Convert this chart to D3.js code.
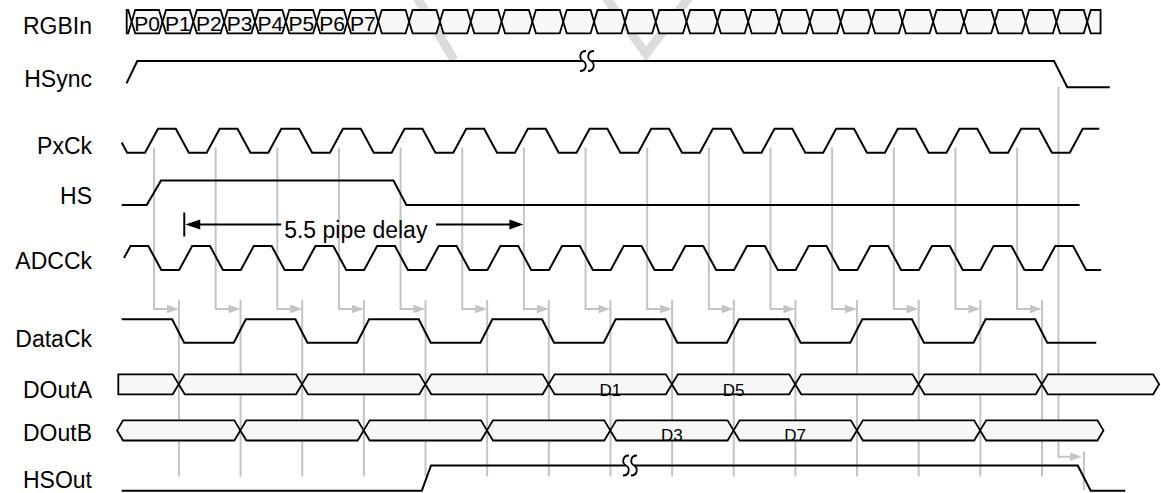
<!DOCTYPE html>
<html><head><meta charset="utf-8">
<script src="https://cdn.jsdelivr.net/npm/d3@7/dist/d3.min.js"></script>
<style>html,body{margin:0;padding:0;background:#fff;}svg{display:block;}</style>
</head><body>
<svg id="chart" width="1161" height="493"></svg>
<script>
// ---------------- data (time measured in pixel-clock periods) ----------------
const signalNames = ["RGBIn","HSync","PxCk","HS","ADCCk","DataCk","DOutA","DOutB","HSOut"];

const rgbLabels = ["P0","P1","P2","P3","P4","P5","P6","P7"];
const rgbCrossings = [-0.216,0.284,0.784,1.284,1.784,2.284,2.784,3.284,3.784,4.284,4.784,5.284,5.784,6.284,6.784,7.284,
                      7.784,8.284,8.784,9.284,9.784,10.284,10.784,11.284,11.784,12.284,12.784,13.284,13.784,14.284,14.784,15.284];
const rgbSpan = [-0.297, 15.5];

const hsyncPoints = [[-0.3,0.15],[-0.125,1],[14.745,1],[14.96,0],[15.65,0]];
const hsyncBreak = [7.105, 7.234];

const pxckToggles = [-0.5,0,0.5,1,1.5,2,2.5,3,3.5,4,4.5,5,5.5,6,6.5,7,7.5,8,8.5,9,9.5,10,10.5,11,11.5,12,12.5,13,13.5,14,14.5,15];
const pxckInit = 1, pxckSpan = [-0.378, 15.48];

const hsPoints = [[-0.378,0],[0.028,0],[0.26,1],[4.03,1],[4.24,0],[15.16,0]];

const adcckToggles = [-0.446,0.054,0.554,1.054,1.554,2.054,2.554,3.054,3.554,4.054,4.554,5.054,5.554,6.054,6.554,7.054,
                      7.554,8.054,8.554,9.054,9.554,10.054,10.554,11.054,11.554,12.054,12.554,13.054,13.554,14.054,14.554,15.054];
const adcckInit = 0, adcckSpan = [-0.341, 15.51];

const datackToggles = [0.44,1.44,2.44,3.44,4.44,5.44,6.44,7.44,8.44,9.44,10.44,11.44,12.44,13.44,14.44];
const datackInit = 1, datackSpan = [-0.378, 15.43];

const doutACrossings = [0.547,2.547,4.547,6.547,8.547,10.547,12.547,14.547];
const doutASpan = [-0.433, 16.45];
const doutALabels = ["","","","","D1","D5","","",""];

const doutBCrossings = [1.547,3.547,5.547,7.547,9.547,11.547,13.547];
const doutBSpan = [-0.453, 15.547];
const doutBLabels = ["","","","","D3","D7","",""];

const hsoutPoints = [[-0.378,0],[4.49,0],[4.64,1],[15.13,1],[15.34,0],[15.9,0]];
const hsoutBreak = [7.802, 7.932];

const adcGuides = [0.146,1.146,2.146,3.146,4.146,5.146,6.146,7.146,8.146,9.146,10.146,11.146,12.146,13.146,14.146];
const dataGuides = [0.55,1.55,2.55,3.55,4.55,5.55,6.55,7.55,8.55,9.55,10.55,11.55,12.55,13.55,14.55];
const hsyncGuide = 14.817, hsoutGuide = 15.23;

const pipeDelayStart = 0.637, pipeDelayLength = 5.5, pipeDelayText = "5.5 pipe delay";

// ---------------- layout ----------------
const rowHigh = [10, 61, 128.7, 180.5, 246, 319.3, 374.3, 420.3, 465.5];
const rowLow  = [33.3, 87.3, 152.7, 205, 270, 342.7, 394.3, 440.5, 490.7];
const labelBaseline = [34, 87.3, 154.3, 204.3, 269.3, 346.7, 398.3, 440.7, 488.3];
const FONT = "'Liberation Sans', Arial, Helvetica, sans-serif";
const CLK_W = 0.211, DCK_W = 0.195;

const svg = d3.select("#chart");
const x = d3.scaleLinear().domain([0, 1]).range([145, 206.65]);
const yS = signalNames.map((n, i) => d3.scaleLinear().domain([0, 1]).range([rowLow[i], rowHigh[i]]));
const row = n => signalNames.indexOf(n);

// watermark (faint background strokes)
const wm = svg.append("g").attr("stroke", "#dcdcdc").attr("stroke-width", 9).attr("fill", "none");
wm.append("path").attr("d", "M416,-4 L454,60");
wm.append("path").attr("d", "M605,-4 L646,54 L690,-4");

// ---------------- helpers ----------------
function levelAt(pts, t) {
  for (let i = 0; i < pts.length - 1; i++) {
    const a = pts[i], b = pts[i + 1];
    if (t >= a[0] && t <= b[0]) return a[1] + (b[1] - a[1]) * (t - a[0]) / ((b[0] - a[0]) || 1);
  }
  return pts[pts.length - 1][1];
}
function clip(pts, t0, t1) {
  return [[t0, levelAt(pts, t0)], ...pts.filter(p => p[0] > t0 && p[0] < t1), [t1, levelAt(pts, t1)]];
}
function clockPts(init, toggles, w) {
  const pts = [[-100, init]];
  let lvl = init;
  toggles.forEach(t => { pts.push([t, lvl]); lvl = 1 - lvl; pts.push([t + w, lvl]); });
  pts.push([100, lvl]);
  return pts;
}
function drawWave(name, pts, span, brk) {
  const i = row(name);
  const line = d3.line().x(d => x(d[0])).y(d => yS[i](d[1]));
  const segs = brk ? [clip(pts, span[0], brk[0]), clip(pts, brk[1], span[1])] : [clip(pts, span[0], span[1])];
  segs.forEach(s => svg.append("path").attr("d", line(s)).attr("fill", "none")
    .attr("stroke", "#000").attr("stroke-width", 2).attr("stroke-linejoin", "miter"));
  if (brk) {
    brk.forEach(t => {
      const cx = x(t), cy = yS[i](levelAt(pts, t));
      svg.append("path")
        .attr("d", `M${cx+3},${cy-10} C${cx-4},${cy-10} ${cx-4},${cy-2} ${cx},${cy} C${cx+4},${cy+2} ${cx+4},${cy+10} ${cx-3},${cy+10}`)
        .attr("fill", "none").attr("stroke", "#000").attr("stroke-width", 1.8);
    });
  }
}
// labels[k] is written in the k-th cell that follows the first crossing
function drawBus(name, crossings, span, startCut, endCut, bevel, labels, fontSize, textBase, labelFromCrossing) {
  const i = row(name), top = rowHigh[i], bot = rowLow[i], mid = (top + bot) / 2;
  const bounds = [span[0], ...crossings, span[1]];
  const g = svg.append("g");
  for (let k = 0; k < bounds.length - 1; k++) {
    const xa = x(bounds[k]), xb = x(bounds[k + 1]);
    const cutL = k === 0 && startCut, cutR = k === bounds.length - 2 && endCut;
    const p = [];
    if (cutL) { p.push([xa, top]); } else { p.push([xa, mid]); p.push([xa + bevel, top]); }
    if (cutR) { p.push([xb, top]); p.push([xb, bot]); } else { p.push([xb - bevel, top]); p.push([xb, mid]); p.push([xb - bevel, bot]); }
    if (cutL) { p.push([xa, bot]); } else { p.push([xa + bevel, bot]); }
    g.append("polygon").attr("points", p.map(d => d.join(",")).join(" "))
      .attr("fill", "#f7f7f7").attr("stroke", "#000").attr("stroke-width", 1.8).attr("stroke-linejoin", "miter");
  }
  labels.forEach((lab, k) => {
    if (!lab) return;
    const c = k + (labelFromCrossing ? 1 : 0);
    const xa = x(bounds[c]), xb = x(bounds[c + 1]);
    g.append("text").attr("x", (xa + xb) / 2).attr("y", textBase).attr("text-anchor", "middle")
      .attr("font-family", FONT).attr("font-size", fontSize).attr("fill", "#000").text(lab);
  });
}

// ---------------- gray guide lines ----------------
const gGuide = svg.append("g").attr("stroke", "#c4c4c4").attr("stroke-width", 2).attr("fill", "none");
adcGuides.forEach((t, k) => {
  const xa = x(t), xb = x(dataGuides[k]);
  gGuide.append("path").attr("d", `M${xa},147.5 L${xa},309 L${xb - 11},309`);
  svg.append("path").attr("d", `M${xb},309 L${xb - 12},304.8 L${xb - 12},313.2 Z`).attr("fill", "#c4c4c4");
});
dataGuides.forEach(t => gGuide.append("line").attr("x1", x(t)).attr("x2", x(t)).attr("y1", 300).attr("y2", 476.5));
gGuide.append("path").attr("d", `M${x(hsyncGuide)},87 L${x(hsyncGuide)},456.7 L${x(hsoutGuide) - 12},456.7`);
svg.append("path").attr("d", `M${x(hsoutGuide) - 2},456.7 L${x(hsoutGuide) - 14},452.5 L${x(hsoutGuide) - 14},460.9 Z`).attr("fill", "#c4c4c4");
gGuide.append("line").attr("x1", x(hsoutGuide)).attr("x2", x(hsoutGuide)).attr("y1", 451.5).attr("y2", 490);

// ---------------- signal labels ----------------
svg.append("g").selectAll("text").data(signalNames).join("text")
  .attr("x", 92).attr("y", (d, i) => labelBaseline[i]).attr("text-anchor", "end")
  .attr("font-family", FONT).attr("font-size", 23).attr("fill", "#000").text(d => d);

// ---------------- waveforms ----------------
drawBus("RGBIn", rgbCrossings, rgbSpan, true, true, 3.5, rgbLabels, 21, 31, true);
drawWave("HSync", hsyncPoints, [hsyncPoints[0][0], hsyncPoints[hsyncPoints.length - 1][0]], hsyncBreak);
drawWave("PxCk", clockPts(pxckInit, pxckToggles, CLK_W), pxckSpan);
drawWave("HS", hsPoints, [hsPoints[0][0], hsPoints[hsPoints.length - 1][0]]);
drawWave("ADCCk", clockPts(adcckInit, adcckToggles, CLK_W), adcckSpan);
drawWave("DataCk", clockPts(datackInit, datackToggles, DCK_W), datackSpan);
drawBus("DOutA", doutACrossings, doutASpan, true, false, 6, doutALabels, 17, 395.5, false);
drawBus("DOutB", doutBCrossings, doutBSpan, false, false, 6, doutBLabels, 17, 441, false);
drawWave("HSOut", hsoutPoints, [hsoutPoints[0][0], hsoutPoints[hsoutPoints.length - 1][0]], hsoutBreak);

// ---------------- pipe delay dimension ----------------
const pdY = 224.5, pdX0 = x(pipeDelayStart), pdX1 = x(pipeDelayStart + pipeDelayLength);
const pdText = svg.append("text").attr("x", (pdX0 + pdX1) / 2 + 2).attr("y", 237.5).attr("text-anchor", "middle")
  .attr("font-family", FONT).attr("font-size", 23).attr("fill", "#000").text(pipeDelayText);
const bb = pdText.node().getBBox();
svg.append("line").attr("x1", pdX0).attr("x2", pdX0).attr("y1", 212.5).attr("y2", 236.5).attr("stroke", "#000").attr("stroke-width", 2);
svg.append("line").attr("x1", pdX0 + 10).attr("x2", bb.x - 3).attr("y1", pdY).attr("y2", pdY).attr("stroke", "#000").attr("stroke-width", 2);
svg.append("line").attr("x1", bb.x + bb.width + 8).attr("x2", pdX1 - 10).attr("y1", pdY).attr("y2", pdY).attr("stroke", "#000").attr("stroke-width", 2);
svg.append("path").attr("d", `M${pdX0 + 1},${pdY} L${pdX0 + 16},${pdY - 5} L${pdX0 + 16},${pdY + 5} Z`).attr("fill", "#000");
svg.append("path").attr("d", `M${pdX1},${pdY} L${pdX1 - 14},${pdY - 5} L${pdX1 - 14},${pdY + 5} Z`).attr("fill", "#000");
</script>
</body></html>
